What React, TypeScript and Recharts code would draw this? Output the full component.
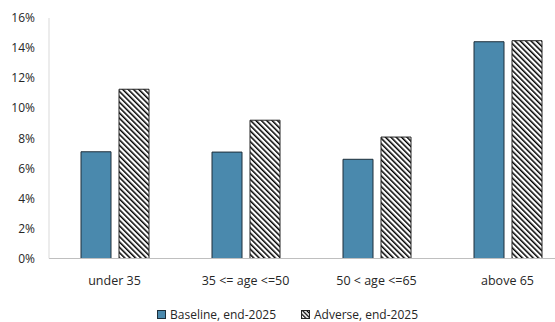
import React from "react";
import { BarChart, Bar, XAxis, YAxis, Legend } from "recharts";

const categories = ["under 35", "35 <= age <=50", "50 < age <=65", "above 65"];
const baselineValues = [7.1, 7.08, 6.6, 14.42];
const adverseValues = [11.26, 9.2, 8.08, 14.49];
const yTicks = [0, 2, 4, 6, 8, 10, 12, 14, 16];
const seriesNames = ["Baseline, end-2025", "Adverse, end-2025"];

const data = categories.map((c, i) => ({
  name: c,
  baseline: baselineValues[i],
  adverse: adverseValues[i],
}));

const FONT = "'Open Sans', 'Noto Sans', sans-serif";
const TEXT = "#262626";
const BASE_FILL = "#4a89ad";
const BASE_STROKE = "#1e2f3a";

const LegendContent = () => (
  <div
    style={{
      display: "flex",
      alignItems: "center",
      fontFamily: FONT,
      fontSize: 12,
      color: TEXT,
      height: 16,
      paddingLeft: 157,
      boxSizing: "border-box",
    }}
  >
    <svg width={9} height={9} style={{ marginRight: 4 }}>
      <rect x={0.5} y={0.5} width={8} height={8} fill={BASE_FILL} stroke={BASE_STROKE} />
    </svg>
    <span style={{ marginRight: 25 }}>{seriesNames[0]}</span>
    <svg width={9} height={9} style={{ marginRight: 4 }}>
      <defs>
        <pattern id="hatchLegend" width="3" height="3" patternUnits="userSpaceOnUse" patternTransform="rotate(-45)">
          <rect x={0} y={0} width={1.3} height={3} fill="#000" />
        </pattern>
      </defs>
      <rect x={0.5} y={0.5} width={8} height={8} fill="#fff" />
      <rect x={0.5} y={0.5} width={8} height={8} fill="url(#hatchLegend)" stroke="#222" />
    </svg>
    <span>{seriesNames[1]}</span>
  </div>
);

export default function App() {
  return (
    <div style={{ position: "absolute", left: 0, top: 0, width: 555, height: 322, overflow: "hidden", background: "#fff" }}>
      <BarChart
        width={590}
        height={322}
        data={data}
        margin={{ top: 18, right: 17, left: 0, bottom: 0 }}
        barSize={30}
        barGap={8}
      >
        <defs>
          <pattern id="hatch" width="3.8" height="3.8" patternUnits="userSpaceOnUse" patternTransform="rotate(-45)">
            <rect x={0} y={0} width={3.8} height={3.8} fill="#fff" />
            <rect x={0} y={0} width={1.5} height={3.8} fill="#000" />
          </pattern>
        </defs>
        <XAxis
          dataKey="name"
          height={47.5}
          tickLine={false}
          tickSize={0}
          tickMargin={18}
          axisLine={{ stroke: "#bfbfbf" }}
          tick={{ fill: TEXT, fontSize: 12.5, fontFamily: FONT }}
          interval={0}
        />
        <YAxis
          width={49}
          domain={[0, 16]}
          ticks={yTicks}
          tickFormatter={(v: number) => `${v}%`}
          tickLine={false}
          tickSize={0}
          tickMargin={14}
          axisLine={{ stroke: "#d9d9d9" }}
          tick={{ fill: TEXT, fontSize: 12, fontFamily: FONT }}
          interval={0}
        />
        <Legend verticalAlign="bottom" align="left" content={LegendContent} />
        <Bar dataKey="baseline" name={seriesNames[0]} fill={BASE_FILL} stroke={BASE_STROKE} strokeWidth={1} isAnimationActive={false} />
        <Bar dataKey="adverse" name={seriesNames[1]} fill="url(#hatch)" stroke="#222" strokeWidth={1} isAnimationActive={false} />
      </BarChart>
    </div>
  );
}
